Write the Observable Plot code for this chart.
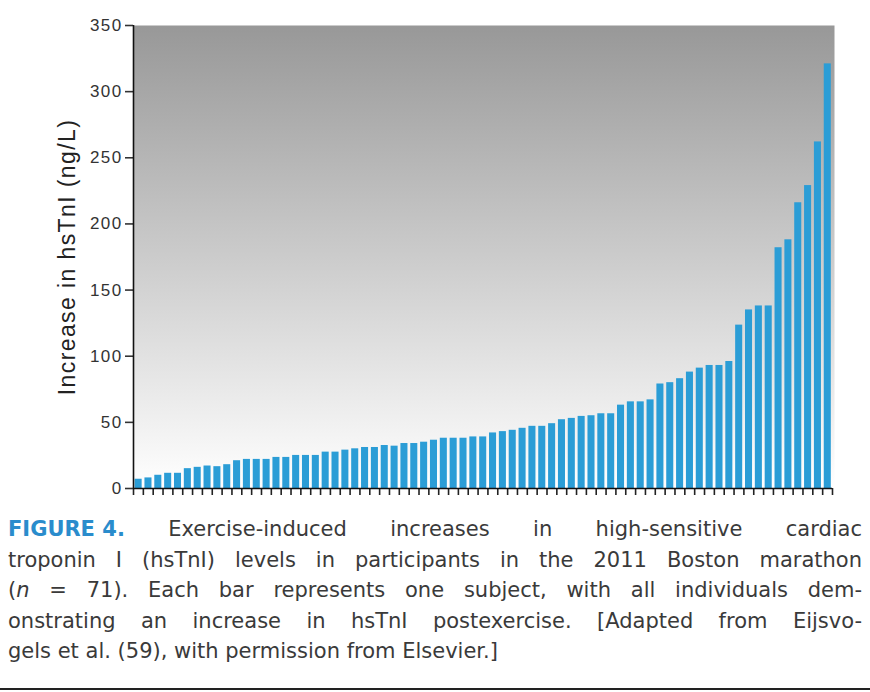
<!DOCTYPE html>
<html>
<head>
<meta charset="utf-8">
<script src="https://cdn.jsdelivr.net/npm/d3@7"></script>
<script src="https://cdn.jsdelivr.net/npm/@observablehq/plot@0.6"></script>
<style>
  html, body { margin: 0; padding: 0; background: #fff; }
  #wrap { width: 870px; position: relative; }
  #chart svg { display: block; }
  #caption {
    box-sizing: border-box;
    width: 870px;
    padding: 14px 8px 21px 8px;
    border-bottom: 2px solid #222;
    font-family: "DejaVu Sans", "Liberation Sans", sans-serif;
    font-size: 21px;
    line-height: 30.5px;
    color: #3a3a3a;
  }
  #caption .ln { text-align: justify; text-align-last: justify; white-space: nowrap; }
  #caption .ln.last { text-align-last: left; }
  #caption .fig { color: #2a8ccc; font-weight: bold; display: inline-block; white-space: pre; }
</style>
</head>
<body>
<div id="wrap">
  <div id="chart"></div>
  <div id="caption"></div>
</div>
<script>
// Data (sorted increases, one bar per subject)
const increase = [
  7, 8, 10, 11.5, 11.5, 15, 16, 17, 16.5, 18,
  21, 22, 22, 22, 23.5, 23.5, 25, 25, 25, 27.5,
  27.5, 29, 30, 31, 31, 32.5, 32, 34, 34, 35,
  36.5, 38, 38, 38, 39, 39, 42, 43, 44, 45.5,
  47, 47, 49, 52, 53, 54.5, 55, 56.5, 56.5, 63,
  65.5, 65.5, 67, 79, 80, 83, 88, 91, 93, 93,
  96, 123.5, 135, 138, 138, 182, 188, 216, 229, 262,
  321
];
const yTicks = [0, 50, 100, 150, 200, 250, 300, 350];
const yLabel = "Increase in hsTnI (ng/L)";
const captionFig = "FIGURE 4.";
const captionLines = [
  "Exercise-induced increases in high-sensitive cardiac",
  "troponin I (hsTnI) levels in participants in the 2011 Boston marathon",
  "(n = 71). Each bar represents one subject, with all individuals dem-",
  "onstrating an increase in hsTnI postexercise. [Adapted from Eijsvo-",
  "gels et al. (59), with permission from Elsevier.]"
];

const data = increase.map((v, i) => ({subject: i, value: v}));
const slotEdges = data.map(d => d.subject).concat([increase.length]);
const axisFont = "'Liberation Sans', Arial, Helvetica, sans-serif";

const plot = Plot.plot({
  width: 870,
  height: 500,
  marginLeft: 133,
  marginRight: 38,
  marginTop: 25,
  marginBottom: 12,
  style: {fontFamily: axisFont, color: "#222", background: "transparent"},
  x: {domain: [0, increase.length], axis: null},
  y: {domain: [0, 350], axis: null},
  marks: [
    Plot.frame({fill: "url(#bggrad)", stroke: null, insetRight: -2}),
    Plot.rectY(data, {
      x1: "subject",
      x2: d => d.subject + 1,
      y: "value",
      fill: "#2b9dd6",
      insetLeft: 1.6,
      insetRight: 1.2
    }),
    Plot.axisY({
      ticks: yTicks,
      tickSize: 8,
      tickPadding: 3,
      fontSize: 17,
      fontFamily: axisFont,
      strokeWidth: 1.6,
      color: "#333",
      label: null
    }),
    Plot.axisX({
      ticks: slotEdges,
      tickSize: 7,
      strokeWidth: 1.6,
      tickFormat: () => "",
      label: null
    }),
    Plot.ruleY([0], {stroke: "#111", strokeWidth: 1.6}),
    Plot.ruleX([0], {stroke: "#111", strokeWidth: 1.6}),
    Plot.text([yLabel], {
      frameAnchor: "left",
      textAnchor: "middle",
      lineAnchor: "middle",
      rotate: -90,
      dx: -66,
      fontSize: 23,
      fontFamily: axisFont,
      fill: "#222",
      text: d => d
    })
  ]
});

d3.select(plot).insert("defs", ":first-child").html(
  '<linearGradient id="bggrad" x1="0" y1="0" x2="0" y2="1">' +
  '<stop offset="0%" stop-color="#989898"/>' +
  '<stop offset="100%" stop-color="#ffffff"/>' +
  '</linearGradient>'
);
// wider tracking, as in the reference typography
d3.select(plot).selectAll("text").style("letter-spacing", "1.4px");
document.getElementById("chart").appendChild(plot);

const cap = d3.select("#caption");
captionLines.forEach((txt, i) => {
  const line = cap.append("div").attr("class", "ln" + (i === captionLines.length - 1 ? " last" : ""));
  if (i === 0) {
    line.append("span").attr("class", "fig").text(captionFig);
    line.append("span").text(" ");
  }
  if (i === 2) {
    line.append("span").text("(");
    line.append("i").text("n");
    line.append("span").text(txt.slice(2));
  } else {
    line.append("span").text(txt);
  }
});
</script>
</body>
</html>
